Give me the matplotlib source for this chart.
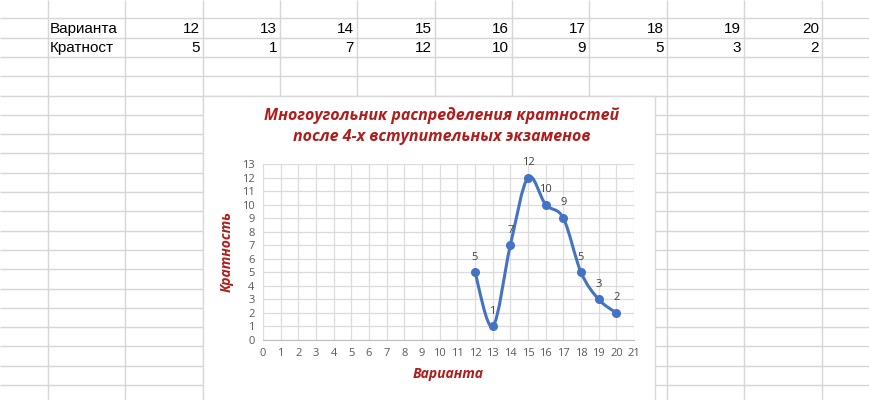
import numpy as np
import matplotlib
matplotlib.use("Agg")
import matplotlib.pyplot as plt
from matplotlib.path import Path
from matplotlib.patches import PathPatch, Rectangle

# table values
variants = [12, 13, 14, 15, 16, 17, 18, 19, 20]
counts = [5, 1, 7, 12, 10, 9, 5, 3, 2]
row_names = ["Варианта", "Кратност"]
title = "Многоугольник распределения кратностей\nпосле 4-х вступительных экзаменов"
x_name = "Варианта"
y_name = "Кратность"

W, H = 870, 400
fig = plt.figure(figsize=(W / 100, H / 100), dpi=100)
fig.patch.set_facecolor("white")

# spreadsheet background (pixel coordinates)
bg = fig.add_axes([0, 0, 1, 1])
bg.set_xlim(0, W)
bg.set_ylim(H, 0)
bg.axis("off")
grid_c = "#d6d6d6"
col_edges = [48, 125, 203, 280, 357, 435, 512, 589, 667, 744, 822]
row_edges = [18.3 + 19.3 * k for k in range(21)]
bg.vlines(col_edges, 0, H, color=grid_c, lw=1)
bg.hlines(row_edges, 0, W, color=grid_c, lw=1)

txt_font = ["Liberation Sans", "DejaVu Sans"]
bg.text(50, 29, row_names[0], fontsize=11, family=txt_font, va="center", ha="left")
bg.text(50, 48, row_names[1], fontsize=11, family=txt_font, va="center", ha="left")
for i, (v, c) in enumerate(zip(variants, counts)):
    right = col_edges[i + 2] - 3
    bg.text(right, 29, str(v), fontsize=11, family=txt_font, va="center", ha="right")
    bg.text(right, 48, str(c), fontsize=11, family=txt_font, va="center", ha="right")

# chart area
bg.add_patch(Rectangle((203, 96), 452, 320, facecolor="white", edgecolor="#d9d9d9", lw=1, zorder=3))

chart_font = ["Open Sans", "DejaVu Sans"]
red = "#b01c1c"
bg.text(442, 126, title, ha="center", va="center", fontsize=11.5, family=chart_font,
        fontweight="bold", fontstyle="italic", color=red, linespacing=1.35, zorder=4)

ax = fig.add_axes([263 / W, 60 / H, 371 / W, 176 / H])
ax.set_zorder(5)
ax.set_facecolor("none")
ax.set_xlim(0, 21)
ax.set_ylim(0, 13)
ax.set_xticks(range(0, 22))
ax.set_yticks(range(0, 14))
ax.grid(True, color="#dcdcdc", lw=0.9)
ax.set_axisbelow(True)
for s in ["top", "right", "left"]:
    ax.spines[s].set_visible(False)
ax.spines["bottom"].set_color("#bfbfbf")
ax.tick_params(length=0, labelsize=8, labelcolor="#595959", pad=6)
for lab in ax.get_xticklabels() + ax.get_yticklabels():
    lab.set_family(chart_font)

ax.set_xlabel(x_name, fontsize=10, family=chart_font, fontweight="bold",
              fontstyle="italic", color=red)
ax.set_ylabel(y_name, fontsize=10, family=chart_font, fontweight="bold",
              fontstyle="italic", color=red)
ax.xaxis.set_label_coords(0.499, -0.155)
ax.yaxis.set_label_coords(-0.08, 0.5)

# smoothed line like Excel (Catmull-Rom style Bezier)
pts = np.column_stack([variants, counts]).astype(float)
ext = np.vstack([pts[0], pts, pts[-1]])
verts = [tuple(pts[0])]
codes = [Path.MOVETO]
for i in range(len(pts) - 1):
    p0, p1, p2, p3 = ext[i], ext[i + 1], ext[i + 2], ext[i + 3]
    c1 = p1 + (p2 - p0) / 6
    c2 = p2 - (p3 - p1) / 6
    verts += [tuple(c1), tuple(c2), tuple(p2)]
    codes += [Path.CURVE4] * 3
ax.add_patch(PathPatch(Path(verts, codes), facecolor="none", edgecolor="#4472c4",
                       lw=2.2, capstyle="round", joinstyle="round", clip_on=False))
ax.plot(variants, counts, "o", color="#4472c4", ms=5.5, clip_on=False, zorder=6)

for v, c in zip(variants, counts):
    ax.annotate(str(c), (v, c), xytext=(0, 7), textcoords="offset points",
                ha="center", va="bottom", fontsize=8, color="#404040", family=chart_font)

fig.savefig("out.png", dpi=100)
